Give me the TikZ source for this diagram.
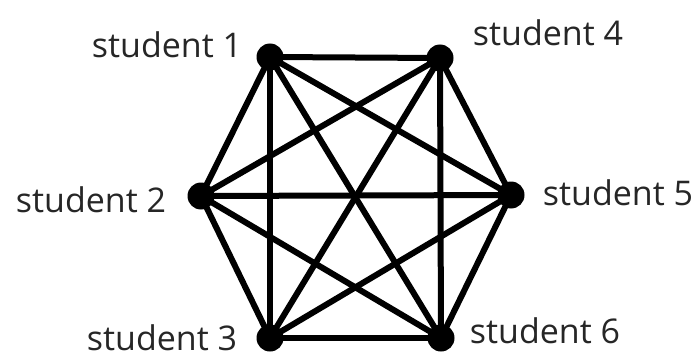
\documentclass[tikz,border=0pt]{standalone}
\usepackage{fontspec}
\setmainfont{Open Sans}
\begin{document}
\begin{tikzpicture}[x=1pt,y=-1pt,
  dot/.style={fill=black,circle,inner sep=0pt,minimum size=27pt},
  edge/.style={line width=6pt,black},
  lbl/.style={font=\fontsize{34}{38}\selectfont,text=black!85,inner sep=0pt}]
\useasboundingbox (0,0) rectangle (699,361);
\node[dot] (s1) at (270,57) {};
\node[dot] (s4) at (440,58) {};
\node[dot] (s2) at (201,196) {};
\node[dot] (s5) at (511,195) {};
\node[dot] (s3) at (270,338) {};
\node[dot] (s6) at (441,338) {};
\foreach \a/\b in {s1/s4,s1/s2,s1/s3,s1/s5,s1/s6,s4/s2,s4/s3,s4/s5,s4/s6,s2/s5,s2/s3,s2/s6,s5/s3,s5/s6,s3/s6}
  \draw[edge] (\a.center) -- (\b.center);
\node[lbl] (l1) at (167,45) {student 1};
\node[lbl] (l4) at (548,33) {student 4};
\node[lbl] (l2) at (91,200) {student 2};
\node[lbl] (l5) at (618,193) {student 5};
\node[lbl] (l3) at (162,338) {student 3};
\node[lbl] (l6) at (545,331) {student 6};
\end{tikzpicture}
\end{document}
